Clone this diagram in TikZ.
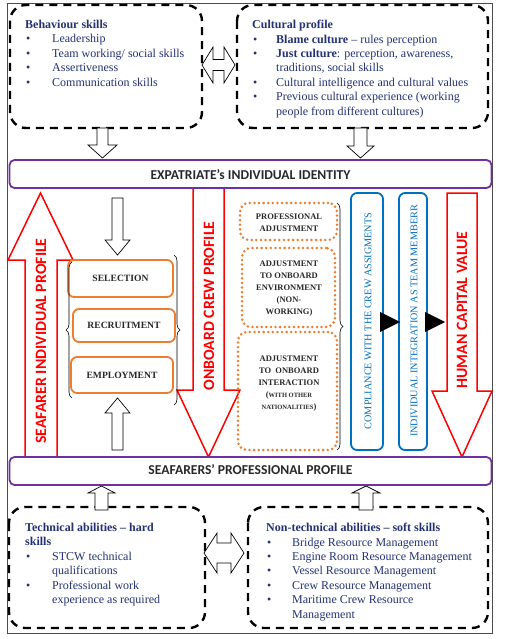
\documentclass[tikz,border=0pt]{standalone}
\usepackage{fontspec}
\setmainfont{Liberation Serif}
\newfontfamily\calfont{Carlito}
\usetikzlibrary{decorations.pathreplacing}
\definecolor{navy}{RGB}{35,50,115}
\definecolor{purpleC}{RGB}{112,48,160}
\definecolor{orangeC}{RGB}{237,125,49}
\definecolor{blueC}{RGB}{0,112,192}
\definecolor{darkC}{RGB}{40,40,40}
\newcommand\blt{\makebox[27pt][l]{\hspace{1pt}•}}
\newcommand\bltb{\makebox[24pt][l]{\hspace{1pt}•}}
\newcommand\bltc{\makebox[26pt][l]{\hspace{1pt}•}}
\begin{document}
\begin{tikzpicture}[x=1pt,y=-1pt,
  dashbox/.style={draw=black, line width=2.4pt, dash pattern=on 8pt off 6pt, rounded corners=16pt},
  banner/.style={draw=purpleC, line width=1.8pt, rounded corners=5pt, fill=white},
  obox/.style={draw=orangeC, line width=1.8pt, rounded corners=6pt},
  dotbox/.style={draw=orangeC, line width=2.8pt, dash pattern=on 0pt off 4.6pt, line cap=round, rounded corners=9pt},
  bbox/.style={draw=blueC, line width=1.8pt, rounded corners=6pt},
  redarrow/.style={draw=red, line width=1.5pt, fill=white, line join=miter},
  outarrow/.style={draw=black, line width=0.7pt, fill=white},
  listtext/.style={anchor=north west, inner sep=0pt, text=navy, align=left, font=\fontsize{12}{14.4}\selectfont},
  bannertext/.style={font=\calfont\bfseries\fontsize{13.6}{15}\selectfont, text=darkC},
  redtext/.style={font=\calfont\bfseries\fontsize{15.8}{17}\selectfont, text=red, rotate=90},
  boxtext/.style={font=\bfseries\fontsize{9.6}{11}\selectfont, text=darkC},
  dottext/.style={font=\bfseries\fontsize{8.5}{12}\selectfont, text=darkC, align=center},
  bluetext/.style={font=\fontsize{10.2}{11}\selectfont, text=blueC, rotate=90},
  brace/.style={decorate, decoration={brace, amplitude=6pt}, draw=black, line width=0.6pt}
]
\useasboundingbox (0,0) rectangle (506,639);
\fill[white] (0,0) rectangle (506,639);
% outer frame
\draw[black!70, line width=0.6pt] (7,3) rectangle (492,633);

% dashed boxes
\draw[dashbox] (10,5) rectangle (202,128);
\draw[dashbox] (237,5) rectangle (488,128);
\draw[dashbox] (9,507) rectangle (205,628);
\draw[dashbox] (248,507) rectangle (488,628);

% list texts
\node[listtext] (beh) at (25,20) {\textbf{Behaviour skills}\\
\blt Leadership\\
\blt Team working/ social skills\\
\blt Assertiveness\\
\blt Communication skills};
\node[listtext] (cul) at (252,20) {\textbf{Cultural profile}\\
\bltb\textbf{Blame culture} – rules perception\\
\bltb\textbf{Just culture}: perception, awareness,\\
\hspace*{24pt}traditions, social skills\\
\bltb Cultural intelligence and cultural values\\
\bltb Previous cultural experience (working\\
\hspace*{24pt}people from different cultures)};
\node[listtext] (tech) at (25,523) {\textbf{Technical abilities – hard}\\
\textbf{skills}\\
\blt STCW technical\\
\hspace*{27pt}qualifications\\
\blt Professional work\\
\hspace*{27pt}experience as required};
\node[listtext] (ntech) at (266,523) {\textbf{Non-technical abilities – soft skills}\\
\bltc Bridge Resource Management\\
\bltc Engine Room Resource Management\\
\bltc Vessel Resource Management\\
\bltc Crew Resource Management\\
\bltc Maritime Crew Resource\\
\hspace*{26pt}Management};

% double arrows between boxes
\draw[outarrow] (202,65) -- (213,47) -- (213,59.5) -- (224,59.5) -- (224,47) -- (235,65) -- (224,83) -- (224,70.5) -- (213,70.5) -- (213,83) -- cycle;
\draw[outarrow] (204,553) -- (217,533) -- (217,543) -- (231,543) -- (231,533) -- (244,553) -- (231,573) -- (231,563) -- (217,563) -- (217,573) -- cycle;

% arrows to/from banners
\draw[outarrow] (97,128) -- (108,128) -- (108,145) -- (117,145) -- (102.5,158) -- (88,145) -- (97,145) -- cycle;
\draw[outarrow] (354,128) -- (367,128) -- (367,146) -- (374,146) -- (360.5,158) -- (347,146) -- (354,146) -- cycle;
\draw[outarrow] (95,510) -- (108,510) -- (108,493) -- (115,493) -- (101.5,486) -- (88,493) -- (95,493) -- cycle;
\draw[outarrow] (359,510) -- (373,510) -- (373,493) -- (380,493) -- (366,486) -- (352,493) -- (359,493) -- cycle;

% red block arrows
\draw[redarrow] (40.5,193) -- (73,260) -- (57,260) -- (57,457) -- (25,457) -- (25,260) -- (8,260) -- cycle;
\node[redtext] (sip) at (41,341) {SEAFARER INDIVIDUAL PROFILE};
\draw[redarrow] (193,188) -- (224,188) -- (224,390) -- (240,390) -- (208.5,457) -- (177,390) -- (193,390) -- cycle;
\node[redtext] (ocp) at (209,306) {ONBOARD CREW PROFILE};
\draw[redarrow] (447,193) -- (477,193) -- (477,391) -- (492,391) -- (462,457) -- (432,391) -- (447,391) -- cycle;
\node[redtext] (hcv) at (462,310) {HUMAN CAPITAL VALUE};

% banners
\node[banner, minimum width=482pt, minimum height=28pt, inner sep=0pt] (exp) at (250.5,174) {};
\node[bannertext] (expt) at (250.5,175) {EXPATRIATE’s INDIVIDUAL IDENTITY};
\node[banner, minimum width=482pt, minimum height=28pt, inner sep=0pt] (spp) at (250.5,471) {};
\node[bannertext] (sppt) at (250.5,470) {SEAFARERS’ PROFESSIONAL PROFILE};

% middle black outline arrows
\draw[outarrow] (112,198) -- (123,198) -- (123,240) -- (130,240) -- (117.5,255) -- (105,240) -- (112,240) -- cycle;
\draw[outarrow] (112,450) -- (123,450) -- (123,413) -- (130,413) -- (117.5,398) -- (105,413) -- (112,413) -- cycle;

% orange boxes
\node[obox, minimum width=105pt, minimum height=37pt] (sel) at (120.5,278.5) {};
\node[boxtext] at (sel.center) {SELECTION};
\node[obox, minimum width=102pt, minimum height=33pt] (rec) at (124,325.5) {};
\node[boxtext] at (rec.center) {RECRUITMENT};
\node[obox, minimum width=102pt, minimum height=36pt] (emp) at (122,375) {};
\node[boxtext] at (emp.center) {EMPLOYMENT};

% braces
\draw[brace] (72,398) -- (72,262);
\draw[brace] (174,255) -- (174,405);
\draw[brace] (337,203) -- (337,450);

% dotted boxes
\node[dotbox, minimum width=97pt, minimum height=37pt] (pa) at (288.5,221.5) {};
\node[dottext] at (289,223) {PROFESSIONAL\\ADJUSTMENT};
\node[dotbox, minimum width=93pt, minimum height=79pt] (aoe) at (288.5,287.5) {};
\node[dottext] at (289,289) {ADJUSTMENT\\TO ONBOARD\\ENVIRONMENT\\(NON-\\WORKING)};
\node[dotbox, minimum width=99pt, minimum height=118pt] (aoi) at (287.5,391) {};
\node[dottext] at (289,384) {ADJUSTMENT\\TO\ \ ONBOARD\\INTERACTION\\({\fontsize{6.5}{8}\selectfont WITH OTHER}\\{\fontsize{6.5}{8}\selectfont NATIONALITIES})};

% blue boxes
\node[bbox, minimum width=32pt, minimum height=257pt] (cmp) at (367,321.5) {};
\node[bluetext] at (368,321) {COMPLIANCE WITH THE CREW ASSIGMENTS};
\node[bbox, minimum width=28pt, minimum height=257pt] (ind) at (413,321.5) {};
\node[bluetext] at (414,321) {INDIVIDUAL INTEGRATION AS TEAM MEMBERR};

% black triangles
\fill[black] (380,312) -- (400,322) -- (380,332) -- cycle;
\fill[black] (425,312) -- (445,322) -- (425,332) -- cycle;
\end{tikzpicture}
\end{document}
